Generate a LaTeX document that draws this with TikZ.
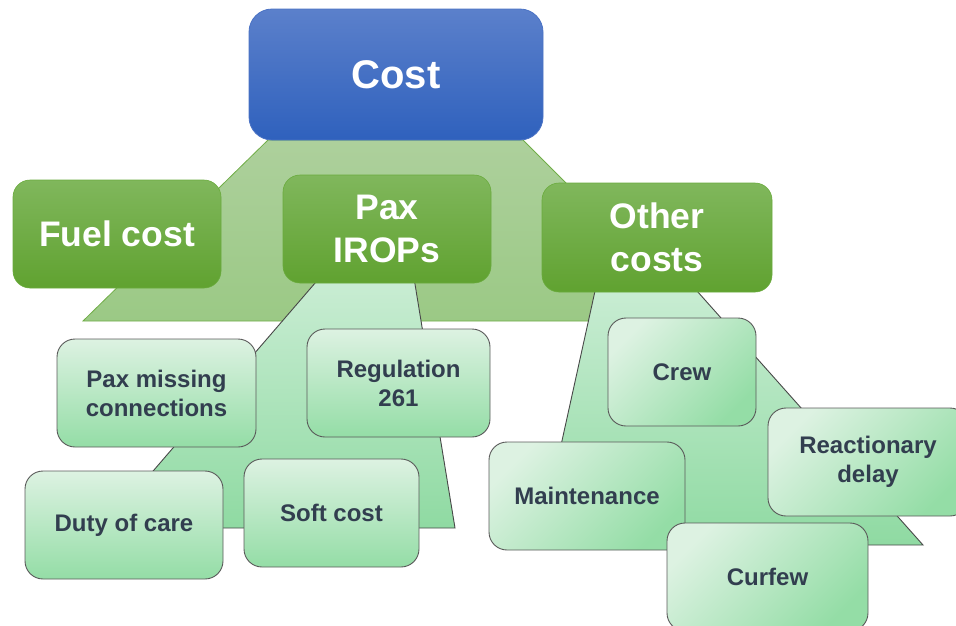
\documentclass[tikz,border=0pt]{standalone}
\usepackage{fontspec}
\setmainfont{Liberation Sans}
\definecolor{costtop}{HTML}{5B80CB}
\definecolor{costbot}{HTML}{2F61BD}
\definecolor{costedge}{HTML}{4A72C4}
\definecolor{grntop}{HTML}{80B75C}
\definecolor{grnbot}{HTML}{60A230}
\definecolor{grnedge}{HTML}{6AAB3D}
\definecolor{traptop}{HTML}{ADD09C}
\definecolor{trapbot}{HTML}{9BC985}
\definecolor{trapedge}{HTML}{70AD47}
\definecolor{ltraptop}{HTML}{CAEDD4}
\definecolor{ltrapbot}{HTML}{8FDAA2}
\definecolor{leaftop}{HTML}{DDF2E2}
\definecolor{leafbot}{HTML}{94DDA6}
\definecolor{leafedge}{HTML}{5A5A5A}
\definecolor{leaftext}{HTML}{323E4F}
\tikzset{
  costbox/.style={rounded corners=23pt, draw=costedge, line width=0.8pt,
    top color=costtop, bottom color=costbot, text=white,
    font=\bfseries\fontsize{40}{48}\selectfont, inner sep=0pt, align=center},
  groupbox/.style={rounded corners=17pt, draw=grnedge, line width=0.6pt,
    top color=grntop, bottom color=grnbot, text=white,
    font=\bfseries\fontsize{35.5}{43}\selectfont, inner sep=0pt, align=center},
  leafbox/.style={rounded corners=18pt, draw=leafedge, line width=0.9pt,
    top color=leaftop, bottom color=leafbot, text=leaftext,
    font=\bfseries\fontsize{24}{29}\selectfont, inner sep=0pt, align=center},
  leafdiag/.style={leafbox, shading angle=45},
  uppertrap/.style={draw=trapedge, line width=0.8pt, top color=traptop, bottom color=trapbot},
  lowertrap/.style={draw=leafedge!80!black, line width=0.9pt, top color=ltraptop, bottom color=ltrapbot},
}
\begin{document}
\begin{tikzpicture}[x=1pt,y=-1pt]
\useasboundingbox (0,0) rectangle (956,625);
\clip (0,0) rectangle (956,625);

% background band joining the root to the first level
\path[uppertrap] (268,140) -- (523,140) -- (704,321) -- (83,321) -- cycle;

% bands joining the first level to the second level
\path[lowertrap] (322,275) -- (413.5,275) -- (455,528) -- (104,528) -- cycle;
\path[lowertrap] (597,282) -- (689,282) -- (923,545) -- (539,545) -- cycle;

% root
\node[costbox, minimum width=294pt, minimum height=131pt] (cost) at (396,74.5) {Cost};

% first level
\node[groupbox, minimum width=208pt, minimum height=108pt] (fuel) at (117,234) {Fuel cost};
\node[groupbox, minimum width=208pt, minimum height=108pt] (pax) at (387,229) {Pax\\IROPs};
\node[groupbox, minimum width=230pt, minimum height=109pt] (other) at (657,237.5) {Other\\costs};

% second level under Pax IROPs
\node[leafbox, minimum width=199pt, minimum height=108pt] (missing) at (156.5,393) {Pax missing\\connections};
\node[leafbox, minimum width=183pt, minimum height=108pt] (reg) at (398.5,383) {Regulation\\261};
\node[leafbox, minimum width=198pt, minimum height=108pt] (duty) at (124,525) {Duty of care};
\node[leafbox, minimum width=175pt, minimum height=108pt] (soft) at (331.5,513) {Soft cost};

% second level under Other costs
\node[leafdiag, minimum width=148pt, minimum height=108pt] (crew) at (682,372) {Crew};
\node[leafdiag, minimum width=200pt, minimum height=108pt] (react) at (868,462) {Reactionary\\delay};
\node[leafdiag, minimum width=196pt, minimum height=108pt] (maint) at (587,496) {Maintenance};
\node[leafdiag, minimum width=201pt, minimum height=108pt] (curfew) at (767.5,577) {Curfew};
\end{tikzpicture}
\end{document}
